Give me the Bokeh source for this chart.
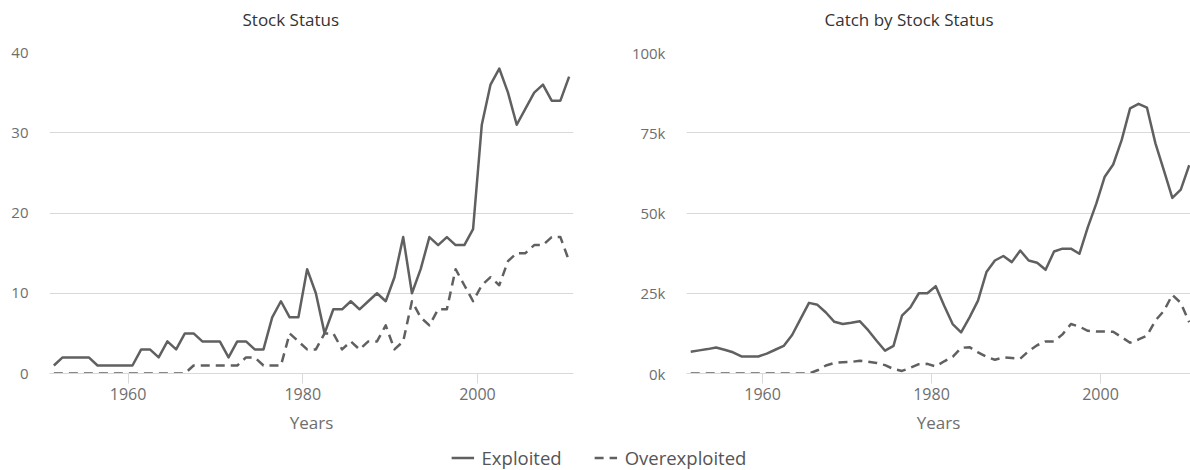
from bokeh.plotting import figure
from bokeh.models import (ColumnDataSource, FixedTicker, CustomJSTickFormatter,
                          Range1d, Legend, LegendItem, Title)
from bokeh.layouts import column, row
from bokeh.embed import file_html
from bokeh.resources import INLINE

# ---------------- data ----------------
years = list(range(1951, 2011))

stock_exploited = [1, 2, 2, 2, 2, 1, 1, 1, 1, 1,
                   3, 3, 2, 4, 3, 5, 5, 4, 4, 4,
                   2, 4, 4, 3, 3, 7, 9, 7, 7, 13,
                   10, 5, 8, 8, 9, 8, 9, 10, 9, 12,
                   17, 10, 13, 17, 16, 17, 16, 16, 18, 31,
                   36, 38, 35, 31, 33, 35, 36, 34, 34, 37]
stock_overexploited = [0, 0, 0, 0, 0, 0, 0, 0, 0, 0,
                       0, 0, 0, 0, 0, 0, 1, 1, 1, 1,
                       1, 1, 2, 2, 1, 1, 1, 5, 4, 3,
                       3, 5, 5, 3, 4, 3, 4, 4, 6, 3,
                       4, 9, 7, 6, 8, 8, 13, 11, 9, 11,
                       12, 11, 14, 15, 15, 16, 16, 17, 17, 14]

catch_exploited = [6800, 7200, 7600, 8100, 7400, 6600, 5300, 5300, 5300, 6200,
                   7400, 8600, 12000, 17000, 22000, 21400, 19000, 16100, 15400, 15800,
                   16300, 13500, 10200, 7100, 8600, 18000, 20600, 25000, 25000, 27200,
                   21100, 15400, 12800, 17500, 22700, 31600, 35200, 36600, 34700, 38300,
                   35200, 34500, 32300, 38000, 38900, 38900, 37300, 45600, 52900, 61300,
                   65100, 72700, 82600, 84000, 82800, 71700, 63300, 54700, 57300, 64900]
catch_overexploited = [0, 0, 0, 0, 0, 0, 0, 0, 0, 0,
                       0, 0, 0, 0, 0, 1000, 2500, 3300, 3500, 3600,
                       4000, 3700, 3300, 2600, 1400, 800, 1800, 2900, 3000, 2200,
                       3800, 5200, 8000, 8200, 6600, 5200, 4300, 5000, 4800, 4600,
                       7000, 8800, 10000, 10000, 12200, 15400, 14600, 13300, 13100, 13100,
                       13000, 11300, 9600, 10600, 11800, 16500, 19500, 24500, 22000, 16000]

chart_titles = ["Stock Status", "Catch by Stock Status"]
x_axis_label = "Years"
series_names = ["Exploited", "Overexploited"]
x_ticks = [1960, 1980, 2000]
stock_ticks = [0, 10, 20, 30, 40]
catch_ticks = [0, 25000, 50000, 75000, 100000]

# ---------------- style ----------------
FONT = "Open Sans"
LINE = "#606060"
GRID = "#d9d9d9"
TICK_TEXT = "#6e6e6e"
TITLE_TEXT = "#333333"
DASH = "9 6"

# points sit at mid-year
x_mid = [y + 0.5 for y in years]


def make_chart(title, exploited, overexploited, yticks, yend, width,
               border_left, border_right, xend, title_offset, formatter=None):
    p = figure(width=width, height=444, output_backend="svg",
               toolbar_location=None, tools="",
               x_range=Range1d(1951, xend), y_range=Range1d(0, yend),
               min_border_left=border_left, min_border_right=border_right,
               min_border_top=52, min_border_bottom=71)
    # spacer (closest to the frame) then the real title above it
    p.add_layout(Title(text=" ", text_font_size="1px", standoff=19), "above")
    p.add_layout(Title(text=title, align="left", offset=title_offset,
                       text_font=FONT, text_font_size="17px",
                       text_font_style="normal", text_color=TITLE_TEXT,
                       standoff=0), "above")
    p.outline_line_color = None
    p.background_fill_color = "white"

    src = ColumnDataSource(dict(x=x_mid, e=exploited, o=overexploited))
    p.line("x", "e", source=src, line_color=LINE, line_width=2.5,
           line_join="round")
    p.line("x", "o", source=src, line_color=LINE, line_width=2.5,
           line_join="round", line_dash=DASH)

    xa = p.xaxis[0]
    xa.ticker = FixedTicker(ticks=x_ticks)
    xa.axis_label = x_axis_label
    xa.axis_label_text_font = FONT
    xa.axis_label_text_font_size = "17px"
    xa.axis_label_text_font_style = "normal"
    xa.axis_label_text_color = TICK_TEXT
    xa.axis_label_standoff = 8
    xa.major_label_text_font = FONT
    xa.major_label_text_font_size = "16px"
    xa.major_label_text_color = TICK_TEXT
    xa.major_label_standoff = 4
    xa.axis_line_color = GRID
    xa.major_tick_line_color = GRID
    xa.major_tick_out = 10
    xa.major_tick_in = 0
    xa.minor_tick_line_color = None

    ya = p.yaxis[0]
    ya.ticker = FixedTicker(ticks=yticks)
    ya.major_label_text_font = FONT
    ya.major_label_text_font_size = "15px"
    ya.major_label_text_color = TICK_TEXT
    ya.major_label_standoff = 21
    ya.axis_line_color = None
    ya.major_tick_line_color = None
    ya.major_tick_out = 0
    ya.minor_tick_line_color = None
    if formatter is not None:
        ya.formatter = formatter

    p.xgrid.grid_line_color = None
    p.ygrid.ticker = FixedTicker(ticks=yticks)
    p.ygrid.grid_line_color = GRID
    p.ygrid.grid_line_width = 1
    return p


p1 = make_chart(chart_titles[0], stock_exploited, stock_overexploited,
                stock_ticks, 40, 610, 49, 37, 2011, 193)
p2 = make_chart(chart_titles[1], catch_exploited, catch_overexploited,
                catch_ticks, 100000, 580, 76, 0, 2010.65, 138,
                formatter=CustomJSTickFormatter(
                    code="return (tick/1000).toFixed(0) + 'k';"))

# ---------------- legend ----------------
leg = figure(width=1190, height=26, output_backend="svg",
             toolbar_location=None, tools="",
             x_range=Range1d(0, 1), y_range=Range1d(0, 1),
             x_axis_type=None, y_axis_type=None, min_border=0,
             min_border_left=7)
leg.outline_line_color = None
leg.grid.visible = False
# legend-only renderers, kept outside the visible range
r1 = leg.line(x=[-2, -1], y=[-2, -1], line_color=LINE, line_width=2.5)
r2 = leg.line(x=[-2, -1], y=[-2, -1], line_color=LINE, line_width=2.5,
              line_dash=DASH)
legend = Legend(items=[LegendItem(label=series_names[0], renderers=[r1]),
                       LegendItem(label=series_names[1], renderers=[r2])],
                orientation="horizontal", location="center")
legend.label_text_font = FONT
legend.label_text_font_size = "18.5px"
legend.label_text_color = "#555555"
legend.glyph_width = 23
legend.label_standoff = 8
legend.spacing = 32
legend.padding = 0
legend.margin = 0
legend.border_line_color = None
legend.background_fill_alpha = 0
leg.add_layout(legend, "center")

layout = column(row(p1, p2), leg)

open("out.html", "w").write(file_html(layout, INLINE))
